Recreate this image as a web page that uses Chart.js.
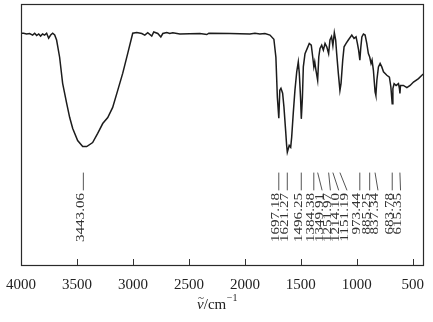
<!DOCTYPE html>
<html>
<head>
<meta charset="utf-8">
<script src="https://cdn.jsdelivr.net/npm/chart.js@4/dist/chart.umd.min.js"></script>
<style>
  html, body { margin: 0; padding: 0; background: #ffffff; }
  #wrap { width: 433px; height: 322px; }
</style>
</head>
<body>
<div id="wrap"><canvas id="c" width="433" height="322"></canvas></div>
<script>
// Wavenumber (cm^-1) and transmittance-like values
const wavenumbers = [
  4000, 3977, 3950, 3923, 3896, 3878, 3860, 3842, 3825, 3807, 3789, 3771, 3753, 3735, 3717, 3699, 3682,
  3655, 3628, 3592, 3565, 3538, 3494, 3449, 3413, 3360, 3315, 3270, 3225, 3181, 3136, 3091, 3046, 3002,
  2966, 2921, 2894, 2868, 2832, 2814, 2778, 2751, 2733, 2698, 2671, 2644, 2581,
  2402, 2340, 2322, 2134, 1955, 1910, 1866, 1821, 1776,
  1741, 1723, 1710, 1697, 1688, 1678, 1663, 1651, 1636, 1627, 1621, 1604, 1591, 1582, 1568, 1553, 1537,
  1523, 1514, 1503, 1496, 1486, 1478, 1463, 1443, 1425, 1407, 1394, 1384, 1376, 1365, 1350, 1340, 1329,
  1314, 1299, 1284, 1268, 1252, 1240, 1226, 1214, 1201, 1189, 1180, 1165, 1151, 1141, 1126, 1114, 1096,
  1076, 1045, 1025, 1007, 995, 984, 973, 964, 955, 941, 926, 911, 897, 885, 873, 864, 852, 837, 830, 821,
  807, 792, 777, 762, 732, 709, 696, 684, 678, 667, 649, 628, 619, 615, 610, 584, 553, 524, 494, 449, 419, 400
];
const transmittance = [
  88.8, 88.8, 88.5, 88.7, 88.1, 88.8, 87.9, 88.5, 87.7, 88.5, 88.1, 88.8, 86.9, 88.1, 88.8, 88.1, 86.2,
  79.6, 69.6, 61.9, 56.5, 52.3, 47.7, 45.4, 45.4, 46.9, 50.4, 54.2, 56.5, 60.4, 66.9, 73.5, 81.2, 88.8,
  89.1, 88.7, 88.1, 89.0, 87.7, 89.3, 88.7, 87.4, 88.7, 89.1, 88.7, 89.0, 88.5,
  88.7, 88.3, 88.8, 88.7, 88.5, 88.8, 88.5, 88.7, 88.1,
  86.5, 79.6, 64.3, 56.2, 67.0, 67.7, 65.8, 60.5, 51.5, 45.8, 43.2, 45.8, 45.1, 49.0, 58.1, 66.9, 74.0,
  77.8, 73.5, 64.3, 56.0, 64.3, 75.9, 81.0, 83.0, 84.9, 84.2, 79.7, 75.9, 77.8, 74.6, 70.8, 79.7, 83.0,
  84.2, 82.3, 84.9, 83.5, 81.0, 86.2, 87.5, 84.0, 89.0, 86.2, 81.0, 73.3, 66.9, 69.6, 78.5, 83.6, 84.9,
  86.2, 88.1, 86.8, 87.4, 84.9, 82.3, 78.5, 83.6, 87.4, 88.5, 88.1, 84.9, 81.0, 79.7, 77.2, 78.5, 74.6, 66.3, 65.0, 70.8,
  75.9, 77.2, 75.9, 74.0, 72.7, 72.0, 68.2, 61.8, 67.6, 69.5, 68.8, 69.5, 67.5, 65.7, 68.8, 68.8, 68.0, 68.8, 70.1, 71.4, 72.7, 73.3
];
const peakValues = [3443.06, 1697.18, 1621.27, 1496.25, 1384.38, 1349.91, 1251.97, 1214.10, 1151.19, 973.44, 885.25, 837.34, 683.78, 615.35];
const peakLabels = ['3443.06', '1697.18', '1621.27', '1496.25', '1384.38', '1349.91', '1251.97', '1214.10', '1151.19', '973.44', '885.25', '837.34', '683.78', '615.35'];
const xTickValues = [4000, 3500, 3000, 2500, 2000, 1500, 1000, 500];
const axisTitleSymbol = 'ν';
const axisTitleAccent = '~';
const axisTitleUnit = '/cm';
const axisTitleExp = '−1';

const points = wavenumbers.map((w, i) => ({ x: w, y: transmittance[i] }));

const SERIF = '"Liberation Serif", "Times New Roman", serif';

const decor = {
  id: 'decor',
  afterDatasetsDraw(chart) {
    const ctx = chart.ctx;
    const a = chart.chartArea;
    const xs = chart.scales.x;
    const ys = chart.scales.y;
    ctx.save();
    // frame
    ctx.strokeStyle = '#2a2a2a';
    ctx.lineWidth = 1.2;
    ctx.strokeRect(a.left + 0.5, a.top + 0.5, a.right - a.left - 1, a.bottom - a.top);
    // inward ticks
    ctx.lineWidth = 1;
    ctx.strokeStyle = '#333';
    xTickValues.forEach(v => {
      const px = Math.round(xs.getPixelForValue(v)) + 0.5;
      if (px <= a.left + 2) return;
      ctx.beginPath();
      ctx.moveTo(px, a.bottom);
      ctx.lineTo(px, a.bottom - 6);
      ctx.stroke();
    });
    // peak markers and labels
    const yTop = ys.getPixelForValue(35.4);
    const yBot = ys.getPixelForValue(28.6);
    const yText = ys.getPixelForValue(27.6);
    const gap = 8.3;
    let prev = -1e9;
    ctx.font = '14px ' + SERIF;
    ctx.fillStyle = '#333';
    ctx.textAlign = 'right';
    ctx.textBaseline = 'alphabetic';
    peakValues.forEach((v, i) => {
      const px = xs.getPixelForValue(v);
      const lx = Math.max(px, prev + gap);
      prev = lx;
      ctx.strokeStyle = '#555';
      ctx.lineWidth = 1;
      ctx.beginPath();
      ctx.moveTo(px, yTop);
      ctx.lineTo(lx, yBot);
      ctx.stroke();
      ctx.save();
      ctx.translate(lx + 0.5, yText);
      ctx.rotate(-Math.PI / 2);
      ctx.scale(1.08, 0.88);
      ctx.fillText(peakLabels[i], 0, 0);
      ctx.restore();
    });
    // axis title
    const cx = 217;
    const base = a.bottom + 44;
    ctx.textAlign = 'left';
    ctx.fillStyle = '#222';
    ctx.font = 'italic 15px ' + SERIF;
    const w1 = ctx.measureText(axisTitleSymbol).width;
    ctx.font = '15px ' + SERIF;
    const w2 = ctx.measureText(axisTitleUnit).width;
    ctx.font = '10px ' + SERIF;
    const w3 = ctx.measureText(axisTitleExp).width;
    let x0 = cx - (w1 + w2 + w3) / 2;
    ctx.font = 'italic 15px ' + SERIF;
    ctx.fillText(axisTitleSymbol, x0, base);
    ctx.font = '11px ' + SERIF;
    ctx.textAlign = 'center';
    ctx.fillText(axisTitleAccent, x0 + w1 / 2 + 0.5, base - 8);
    ctx.textAlign = 'left';
    x0 += w1;
    ctx.font = '15px ' + SERIF;
    ctx.fillText(axisTitleUnit, x0, base);
    x0 += w2;
    ctx.font = '10px ' + SERIF;
    ctx.fillText(axisTitleExp, x0 + 0.5, base - 8);
    ctx.restore();
  }
};

new Chart(document.getElementById('c'), {
  type: 'line',
  data: {
    datasets: [{
      data: points,
      borderColor: '#1c1c1c',
      borderWidth: 1.5,
      pointRadius: 0,
      tension: 0,
      fill: false
    }]
  },
  options: {
    responsive: false,
    animation: false,
    devicePixelRatio: 1,
    layout: { padding: { left: 21, right: 9, top: 4, bottom: 25 } },
    plugins: { legend: { display: false }, tooltip: { enabled: false } },
    scales: {
      x: {
        type: 'linear',
        reverse: true,
        min: 400,
        max: 4000,
        afterBuildTicks: s => { s.ticks = xTickValues.map(v => ({ value: v })); },
        grid: { display: false },
        border: { display: false },
        ticks: {
          font: { family: SERIF, size: 15 },
          color: '#222',
          padding: 3,
          maxRotation: 0,
          autoSkip: false,
          callback: v => String(v)
        }
      },
      y: { display: false, min: 0, max: 100 }
    }
  },
  plugins: [decor]
});
</script>
</body>
</html>
